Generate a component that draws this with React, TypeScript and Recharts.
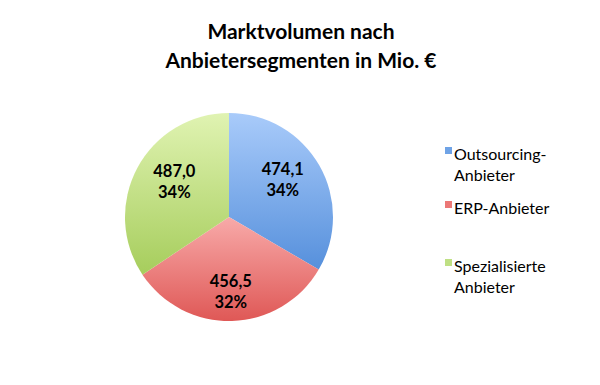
import { PieChart, Pie, Cell, Legend } from "recharts";

const segments = ["Outsourcing-Anbieter", "ERP-Anbieter", "Spezialisierte Anbieter"];
const legendLines = [["Outsourcing-", "Anbieter"], ["ERP-Anbieter"], ["Spezialisierte", "Anbieter"]];
const volumes = [474.1, 456.5, 487.0];
const percentLabels = ["34%", "32%", "34%"];

// light (top) / dark (bottom) per slice
const GRADIENTS = [
  ["#a9cbfa", "#5690dc"],
  ["#f8aaa9", "#df5856"],
  ["#e0f3b2", "#a6cd5c"],
];
const SWATCH = ["#6fa3e6", "#ec7876", "#bfe084"];

const data = segments.map((name, i) => ({
  name,
  value: volumes[i],
  pct: percentLabels[i],
}));

const FONT = "Lato, 'Open Sans', sans-serif";
const RAD = Math.PI / 180;

function SliceLabel(props: any) {
  const { cx, cy, midAngle, index } = props;
  const x = cx + 62 * Math.cos(-midAngle * RAD);
  const y = cy + 75 * Math.sin(-midAngle * RAD);
  const row = data[index];
  return (
    <text
      x={x}
      y={y}
      textAnchor="middle"
      fontFamily={FONT}
      fontWeight={700}
      fontSize={16.5}
      fill="#000"
    >
      <tspan x={x} dy={-5}>{row.value.toFixed(1).replace(".", ",")}</tspan>
      <tspan x={x} dy={21}>{row.pct}</tspan>
    </text>
  );
}

function LegendBox() {
  const tops = [143, 197, 255];
  return (
    <div style={{ position: "relative", width: 150, height: 385 }}>
      {legendLines.map((lines, i) => (
        <div
          key={i}
          style={{
            position: "absolute",
            left: 0,
            top: tops[i],
            fontFamily: FONT,
            fontSize: 16,
            lineHeight: "21px",
            color: "#000",
          }}
        >
          <span
            style={{
              position: "absolute",
              left: 0,
              top: 4,
              width: 7,
              height: 7,
              background: SWATCH[i],
            }}
          />
          <div style={{ paddingLeft: 9 }}>
            {lines.map((l) => (
              <div key={l} style={{ whiteSpace: "nowrap" }}>{l}</div>
            ))}
          </div>
        </div>
      ))}
    </div>
  );
}

export default function App() {
  return (
    <div style={{ position: "absolute", left: 0, top: 0, width: 600, height: 385, background: "#fff" }}>
      <div
        style={{
          position: "absolute",
          left: 0,
          top: 16,
          width: 602,
          textAlign: "center",
          fontFamily: FONT,
          fontWeight: 700,
          fontSize: 21,
          lineHeight: "29px",
          color: "#000",
        }}
      >
        Marktvolumen nach
        <br />
        Anbietersegmenten in Mio. €
      </div>
      <PieChart
        width={600}
        height={385}
        margin={{ top: 0, right: 0, bottom: 0, left: 0 }}
        style={{ position: "absolute", left: 0, top: 0 }}
      >
        <defs>
          {GRADIENTS.map(([a, b], i) => (
            <linearGradient key={i} id={`g${i}`} x1="0" y1="0" x2="0" y2="1">
              <stop offset="0%" stopColor={a} />
              <stop offset="100%" stopColor={b} />
            </linearGradient>
          ))}
        </defs>
        <Pie
          data={data}
          dataKey="value"
          nameKey="name"
          cx={229}
          cy={217}
          outerRadius={104}
          startAngle={90}
          endAngle={-270}
          stroke="none"
          label={SliceLabel}
          labelLine={false}
          isAnimationActive={false}
        >
          {data.map((_, i) => (
            <Cell key={i} fill={`url(#g${i})`} />
          ))}
        </Pie>
        <Legend
          content={<LegendBox />}
          wrapperStyle={{ position: "absolute", left: 445, top: 0, width: 150 }}
        />
      </PieChart>
    </div>
  );
}
